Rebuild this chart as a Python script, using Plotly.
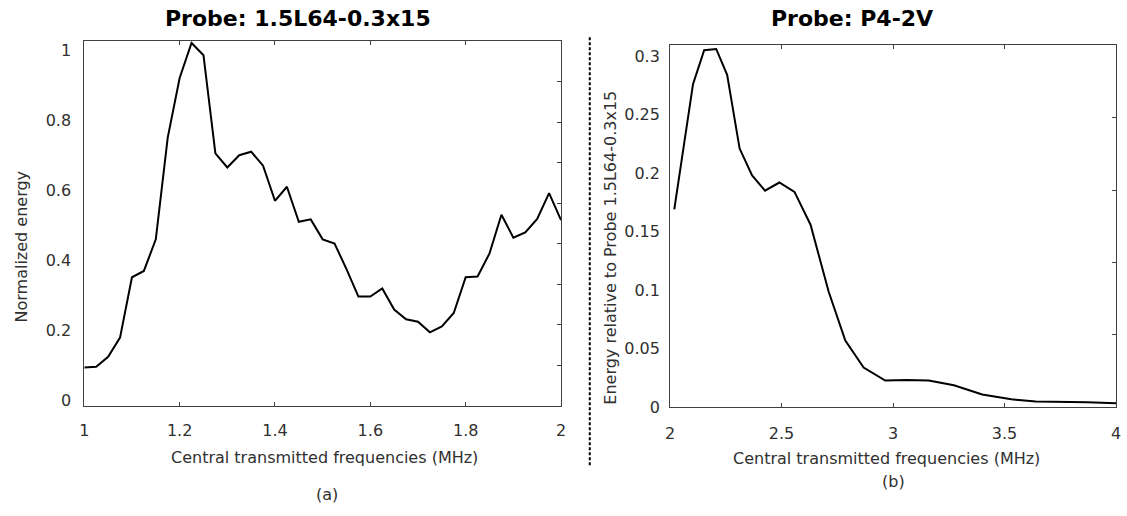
import plotly.graph_objects as go

# ---- data ----
freq_a = [1.0, 1.025, 1.05, 1.075, 1.1, 1.125, 1.15, 1.175, 1.2, 1.225, 1.25, 1.275, 1.3, 1.325,
          1.35, 1.375, 1.4, 1.425, 1.45, 1.475, 1.5, 1.525, 1.55, 1.575, 1.6, 1.625, 1.65, 1.675,
          1.7, 1.725, 1.75, 1.775, 1.8, 1.825, 1.85, 1.875, 1.9, 1.925, 1.95, 1.975, 2.0]
energy_a = [0.095, 0.097, 0.125, 0.18, 0.352, 0.37, 0.46, 0.75, 0.92, 1.02, 0.985, 0.705, 0.665, 0.70,
            0.71, 0.67, 0.57, 0.61, 0.51, 0.517, 0.46, 0.448, 0.375, 0.297, 0.297, 0.32, 0.26, 0.232,
            0.225, 0.195, 0.212, 0.25, 0.352, 0.354, 0.42, 0.53, 0.465, 0.48, 0.518, 0.592, 0.515]

freq_b = [2.019, 2.06, 2.103, 2.153, 2.207, 2.256, 2.312, 2.368, 2.426, 2.49, 2.558, 2.63, 2.711,
          2.786, 2.868, 2.965, 3.06, 3.16, 3.273, 3.40, 3.53, 3.64, 3.755, 3.87, 4.0]
energy_b = [0.169, 0.222, 0.276, 0.305, 0.306, 0.284, 0.221, 0.198, 0.185, 0.192, 0.184, 0.156, 0.099,
            0.057, 0.034, 0.023, 0.0235, 0.023, 0.019, 0.011, 0.007, 0.005, 0.0048, 0.0045, 0.0035]

xticks_a = [1, 1.2, 1.4, 1.6, 1.8, 2]
xticklabels_a = ["1", "1.2", "1.4", "1.6", "1.8", "2"]
yticks_a = [0, 0.2, 0.4, 0.6, 0.8, 1]
yticklabels_a = ["0", "0.2", "0.4", "0.6", "0.8", "1"]
xticks_b = [2, 2.5, 3, 3.5, 4]
xticklabels_b = ["2", "2.5", "3", "3.5", "4"]
yticks_b = [0, 0.05, 0.1, 0.15, 0.2, 0.25, 0.3]
yticklabels_b = ["0", "0.05", "0.1", "0.15", "0.2", "0.25", "0.3"]

title_a = "Probe: 1.5L64-0.3x15"
title_b = "Probe: P4-2V"
xlabel = "Central transmitted frequencies (MHz)"
ylabel_a = "Normalized energy"
ylabel_b = "Energy relative to Probe 1.5L64-0.3x15"
panel_a = "(a)"
panel_b = "(b)"

W, H = 1127, 516
FONT = "DejaVu Sans"
AX = "#404040"
TXT = "#303030"


def px(x):
    return x / W


def py(y):
    return 1 - y / H


fig = go.Figure()
fig.add_trace(go.Scatter(x=freq_a, y=energy_a, mode="lines", xaxis="x", yaxis="y",
                         line=dict(color="black", width=2), showlegend=False, hoverinfo="skip"))
fig.add_trace(go.Scatter(x=freq_b, y=energy_b, mode="lines", xaxis="x2", yaxis="y2",
                         line=dict(color="black", width=2), showlegend=False, hoverinfo="skip"))
# empty traces so that the right-hand tick-only axes are drawn
fig.add_trace(go.Scatter(x=[], y=[], xaxis="x", yaxis="y3", showlegend=False))
fig.add_trace(go.Scatter(x=[], y=[], xaxis="x2", yaxis="y4", showlegend=False))

tickfont = dict(family=FONT, size=16, color=TXT)
common_axis = dict(showgrid=False, zeroline=False, showline=True, linecolor=AX, linewidth=1,
                   tickcolor=AX, tickwidth=1, tickfont=tickfont)

fig.update_layout(
    width=W, height=H, margin=dict(l=0, r=0, t=0, b=0),
    paper_bgcolor="white", plot_bgcolor="white",
    xaxis=dict(common_axis, domain=[px(80), px(561)], anchor="y", range=[1, 2],
               tickvals=xticks_a, ticktext=xticklabels_a, mirror="ticks",
               ticks="inside", ticklen=4, ticklabelstandoff=10),
    yaxis=dict(common_axis, domain=[py(414), py(42)], anchor="x", range=[-0.015, 1.025],
               tickvals=yticks_a, ticktext=yticklabels_a, mirror=True, ticks="",
               ticklabelstandoff=9),
    yaxis3=dict(overlaying="y", anchor="x", side="right", range=[0, 9], tickvals=list(range(1, 9)),
                showticklabels=False, ticks="inside", ticklen=4, tickcolor=AX, showgrid=False,
                zeroline=False, showline=False),
    xaxis2=dict(common_axis, domain=[px(671), px(1121)], anchor="y2", range=[2, 4],
                tickvals=xticks_b, ticktext=xticklabels_b, mirror="ticks",
                ticks="inside", ticklen=4, ticklabelstandoff=11),
    yaxis2=dict(common_axis, domain=[py(415.5), py(46)], anchor="x2", range=[0, 0.3093],
                tickvals=yticks_b, ticktext=yticklabels_b, mirror=True, ticks="",
                ticklabelstandoff=6),
    yaxis4=dict(overlaying="y2", anchor="x2", side="right", range=[0, 5], tickvals=list(range(1, 5)),
                showticklabels=False, ticks="inside", ticklen=4, tickcolor=AX, showgrid=False,
                zeroline=False, showline=False),
)

annos = [
    dict(text="<b>" + title_a + "</b>", x=296, y=19, size=22, color="black", angle=0),
    dict(text="<b>" + title_b + "</b>", x=855, y=19, size=22, color="black", angle=0),
    dict(text=xlabel, x=322, y=467, size=16, color=TXT, angle=0),
    dict(text=xlabel, x=889, y=468, size=16, color=TXT, angle=0),
    dict(text=ylabel_a, x=16.5, y=251, size=16, color=TXT, angle=-90),
    dict(text=ylabel_b, x=611.5, y=252.5, size=16, color=TXT, angle=-90),
    dict(text=panel_a, x=325, y=504, size=16, color=TXT, angle=0),
    dict(text=panel_b, x=896, y=491, size=16, color=TXT, angle=0),
]
for a in annos:
    fig.add_annotation(text=a["text"], x=px(a["x"]), y=py(a["y"]), xref="paper", yref="paper",
                       xanchor="center", yanchor="middle", showarrow=False, textangle=a["angle"],
                       font=dict(family=FONT, size=a["size"], color=a["color"]))

fig.add_shape(type="line", xref="paper", yref="paper", x0=px(590), x1=px(590), y0=py(38), y1=py(475),
              line=dict(color="black", width=2, dash="3px,2px"))

fig.write_html("out.html")
